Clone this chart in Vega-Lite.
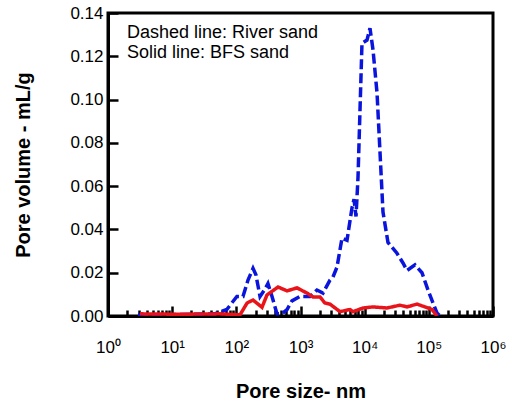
{
  "$schema": "https://vega.github.io/schema/vega-lite/v6.json",
  "autosize": {"type": "none"},
  "padding": {"left": 108, "top": 13, "right": 20, "bottom": 89},
  "width": 385,
  "height": 303,
  "config": {
    "font": "Liberation Sans",
    "view": {"stroke": "black", "strokeWidth": 3},
    "axis": {"domainColor": "black", "domainWidth": 3, "tickColor": "black", "tickWidth": 2.5, "grid": false, "labelColor": "black", "titleColor": "black", "labelFont": "Liberation Sans", "titleFont": "Liberation Sans", "labelFontSize": 17, "titleFontSize": 20, "titleFontWeight": "bold"}
  },
  "datasets": {
    "curves": [
    {"series": "River sand", "size": 2.94, "volume": 0.0005},
    {"series": "River sand", "size": 6.5, "volume": 0.0005},
    {"series": "River sand", "size": 19, "volume": 0.0008},
    {"series": "River sand", "size": 46, "volume": 0.001},
    {"series": "River sand", "size": 71, "volume": 0.003},
    {"series": "River sand", "size": 102, "volume": 0.009},
    {"series": "River sand", "size": 127, "volume": 0.009},
    {"series": "River sand", "size": 152, "volume": 0.0166},
    {"series": "River sand", "size": 182, "volume": 0.022},
    {"series": "River sand", "size": 202, "volume": 0.019},
    {"series": "River sand", "size": 234, "volume": 0.009},
    {"series": "River sand", "size": 281, "volume": 0.0125},
    {"series": "River sand", "size": 311, "volume": 0.015},
    {"series": "River sand", "size": 360, "volume": 0.009},
    {"series": "River sand", "size": 430, "volume": 0.001},
    {"series": "River sand", "size": 515, "volume": 0.001},
    {"series": "River sand", "size": 617, "volume": 0.003},
    {"series": "River sand", "size": 737, "volume": 0.007},
    {"series": "River sand", "size": 980, "volume": 0.009},
    {"series": "River sand", "size": 1406, "volume": 0.009},
    {"series": "River sand", "size": 1807, "volume": 0.012},
    {"series": "River sand", "size": 2240, "volume": 0.0106},
    {"series": "River sand", "size": 2880, "volume": 0.0166},
    {"series": "River sand", "size": 3206, "volume": 0.018},
    {"series": "River sand", "size": 3706, "volume": 0.0226},
    {"series": "River sand", "size": 4435, "volume": 0.036},
    {"series": "River sand", "size": 5308, "volume": 0.035},
    {"series": "River sand", "size": 6350, "volume": 0.05},
    {"series": "River sand", "size": 6824, "volume": 0.054},
    {"series": "River sand", "size": 7330, "volume": 0.046},
    {"series": "River sand", "size": 7873, "volume": 0.064},
    {"series": "River sand", "size": 8456, "volume": 0.095},
    {"series": "River sand", "size": 9082, "volume": 0.126},
    {"series": "River sand", "size": 10870, "volume": 0.1275},
    {"series": "River sand", "size": 12100, "volume": 0.133},
    {"series": "River sand", "size": 13490, "volume": 0.123},
    {"series": "River sand", "size": 15590, "volume": 0.103},
    {"series": "River sand", "size": 17380, "volume": 0.075},
    {"series": "River sand", "size": 19300, "volume": 0.048},
    {"series": "River sand", "size": 23080, "volume": 0.034},
    {"series": "River sand", "size": 31880, "volume": 0.029},
    {"series": "River sand", "size": 39560, "volume": 0.0245},
    {"series": "River sand", "size": 45700, "volume": 0.021},
    {"series": "River sand", "size": 60830, "volume": 0.0236},
    {"series": "River sand", "size": 78200, "volume": 0.02},
    {"series": "River sand", "size": 97000, "volume": 0.012},
    {"series": "River sand", "size": 116000, "volume": 0.006},
    {"series": "River sand", "size": 134000, "volume": 0.0014},
    {"series": "River sand", "size": 149000, "volume": 0},
    {"series": "BFS sand", "size": 3.15, "volume": 0.001},
    {"series": "BFS sand", "size": 13.3, "volume": 0.0008},
    {"series": "BFS sand", "size": 56, "volume": 0.001},
    {"series": "BFS sand", "size": 114, "volume": 0.0005},
    {"series": "BFS sand", "size": 147, "volume": 0.006},
    {"series": "BFS sand", "size": 182, "volume": 0.0074},
    {"series": "BFS sand", "size": 251, "volume": 0.004},
    {"series": "BFS sand", "size": 300, "volume": 0.0097},
    {"series": "BFS sand", "size": 447, "volume": 0.0134},
    {"series": "BFS sand", "size": 617, "volume": 0.0116},
    {"series": "BFS sand", "size": 881, "volume": 0.013},
    {"series": "BFS sand", "size": 1260, "volume": 0.0106},
    {"series": "BFS sand", "size": 1566, "volume": 0.0088},
    {"series": "BFS sand", "size": 2014, "volume": 0.0088},
    {"series": "BFS sand", "size": 2400, "volume": 0.006},
    {"series": "BFS sand", "size": 2880, "volume": 0.0055},
    {"series": "BFS sand", "size": 4125, "volume": 0.002},
    {"series": "BFS sand", "size": 5900, "volume": 0.003},
    {"series": "BFS sand", "size": 6580, "volume": 0.002},
    {"series": "BFS sand", "size": 9420, "volume": 0.0037},
    {"series": "BFS sand", "size": 13490, "volume": 0.0042},
    {"series": "BFS sand", "size": 22300, "volume": 0.0037},
    {"series": "BFS sand", "size": 35500, "volume": 0.005},
    {"series": "BFS sand", "size": 45700, "volume": 0.0042},
    {"series": "BFS sand", "size": 65300, "volume": 0.0055},
    {"series": "BFS sand", "size": 87100, "volume": 0.0042},
    {"series": "BFS sand", "size": 112000, "volume": 0.003},
    {"series": "BFS sand", "size": 134000, "volume": 0}
    ],
    "notes": [
      {"note": "Dashed line: River sand", "size": 1.977, "volume": 0.1284},
      {"note": "Solid line: BFS sand", "size": 1.977, "volume": 0.1192}
    ]
  },
  "layer": [
    {
      "data": {"name": "curves"},
      "mark": {"type": "line", "strokeWidth": 3.5, "clip": true},
      "encoding": {
        "x": {"field": "size", "type": "quantitative",
          "scale": {"type": "log", "domain": [1, 1000000], "nice": false},
          "axis": {
            "title": "Pore size- nm",
            "titlePadding": 26,
            "values": [1,2,3,4,5,6,7,8,9,10,20,30,40,50,60,70,80,90,100,200,300,400,500,600,700,800,900,1000,2000,3000,4000,5000,6000,7000,8000,9000,10000,20000,30000,40000,50000,60000,70000,80000,90000,100000,200000,300000,400000,500000,600000,700000,800000,900000,1000000],
            "labelExpr": "abs(log(datum.value)/LN10 - round(log(datum.value)/LN10)) < 0.001 ? '10' + ['⁰','¹','²','³','⁴','⁵','⁶'][round(log(datum.value)/LN10)] : ''",
            "tickSize": {"condition": {"test": "abs(log(datum.value)/LN10 - round(log(datum.value)/LN10)) < 0.001", "value": -10}, "value": -6},
            "labelPadding": 33,
            "labelFlush": false
          }
        },
        "y": {"field": "volume", "type": "quantitative",
          "scale": {"domain": [0, 0.14], "nice": false, "zero": true},
          "axis": {
            "title": "Pore volume - mL/g",
            "titlePadding": 36,
            "values": [0,0.005,0.01,0.015,0.02,0.025,0.03,0.035,0.04,0.045,0.05,0.055,0.06,0.065,0.07,0.075,0.08,0.085,0.09,0.095,0.1,0.105,0.11,0.115,0.12,0.125,0.13,0.135,0.14],
            "labelExpr": "round(datum.value*1000) % 20 == 0 ? format(datum.value, '.2f') : ''",
            "tickSize": {"condition": {"test": "round(datum.value*1000) % 20 == 0", "value": -10}, "value": -6},
            "labelPadding": 15
          }
        },
        "color": {"field": "series", "type": "nominal",
          "scale": {"domain": ["River sand", "BFS sand"], "range": ["#0a14dc", "#e8141a"]},
          "legend": null},
        "strokeDash": {"field": "series", "type": "nominal",
          "scale": {"domain": ["River sand", "BFS sand"], "range": [[10, 4], [1, 0]]},
          "legend": null}
      }
    },
    {
      "data": {"name": "notes"},
      "mark": {"type": "text", "align": "left", "baseline": "alphabetic", "fontSize": 18, "font": "Liberation Sans", "fontWeight": "normal", "fill": "black"},
      "encoding": {
        "x": {"field": "size", "type": "quantitative"},
        "y": {"field": "volume", "type": "quantitative"},
        "text": {"field": "note"}
      }
    }
  ]
}
